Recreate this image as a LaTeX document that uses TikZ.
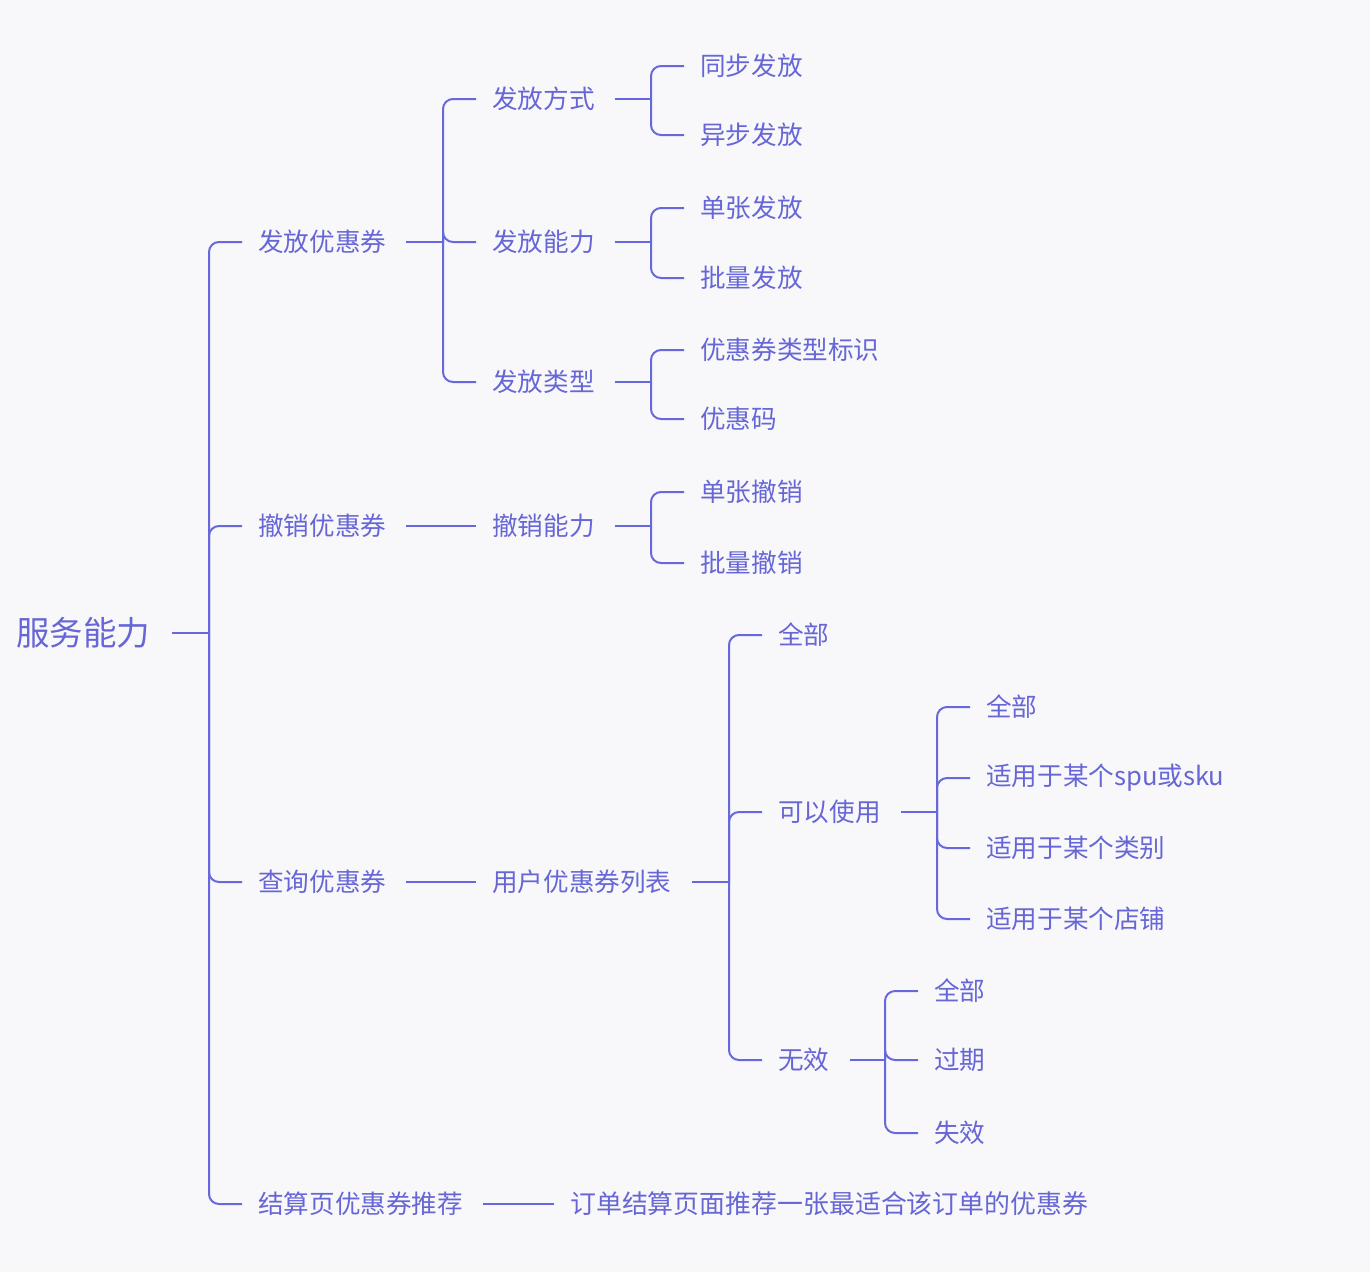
\documentclass[tikz,border=0pt]{standalone}
\usepackage{fontspec}
\setmainfont{Noto Sans CJK SC}
\definecolor{mmline}{RGB}{104,104,222}
\definecolor{mmtext}{RGB}{102,102,214}
\definecolor{mmbg}{RGB}{248,248,250}
\tikzset{
  topic/.style={anchor=west,inner sep=0pt,text=mmtext,font=\fontsize{25.6}{30}\selectfont},
  roottopic/.style={topic,font=\fontsize{33.5}{40}\selectfont},
  stub/.style={draw=mmline,line width=2pt,shorten <=20pt},
  branch/.style={draw=mmline,line width=2pt,rounded corners=10pt,shorten >=16pt}
}
\begin{document}
\begin{tikzpicture}[x=1pt,y=-1pt]
    \fill[mmbg] (0,0) rectangle (1370,1272);% background
    % root
    \node[roottopic] (svc) at (16,633) {服务能力};
    \coordinate (jsvc) at (209,633);
    \draw[stub,shorten <=22pt] (svc.east) -- (jsvc);
    % first level
    \node[topic] (give) at (258,242) {发放优惠券};
    \node[topic] (revoke) at (258,526) {撤销优惠券};
    \node[topic] (query) at (258,882) {查询优惠券};
    \node[topic] (recommend) at (258,1204) {结算页优惠券推荐};
    \foreach \c in {give,revoke,query,recommend}
      \draw[branch] (jsvc) |- (\c.west);
    % issuing
    \node[topic] (mode) at (492,99) {发放方式};
    \node[topic] (ability) at (492,242) {发放能力};
    \node[topic] (kind) at (492,382) {发放类型};
    \coordinate (jgive) at (443,242);
    \draw[stub] (give.east) -- (jgive);
    \foreach \c in {mode,ability,kind}
      \draw[branch] (jgive) |- (\c.west);
    \node[topic] (sync) at (700,66) {同步发放};
    \node[topic] (async) at (700,135) {异步发放};
    \coordinate (jmode) at (651,99);
    \draw[stub] (mode.east) -- (jmode);
    \foreach \c in {sync,async}
      \draw[branch] (jmode) |- (\c.west);
    \node[topic] (single) at (700,208) {单张发放};
    \node[topic] (batch) at (700,278) {批量发放};
    \coordinate (jability) at (651,242);
    \draw[stub] (ability.east) -- (jability);
    \foreach \c in {single,batch}
      \draw[branch] (jability) |- (\c.west);
    \node[topic] (typemark) at (700,350) {优惠券类型标识};
    \node[topic] (promo) at (700,419) {优惠码};
    \coordinate (jkind) at (651,382);
    \draw[stub] (kind.east) -- (jkind);
    \foreach \c in {typemark,promo}
      \draw[branch] (jkind) |- (\c.west);
    % revoking
    \node[topic] (rvk) at (492,526) {撤销能力};
    \draw[stub,shorten >=16pt] (revoke.east) -- (rvk.west);
    \node[topic] (rsingle) at (700,492) {单张撤销};
    \node[topic] (rbatch) at (700,563) {批量撤销};
    \coordinate (jrvk) at (651,526);
    \draw[stub] (rvk.east) -- (jrvk);
    \foreach \c in {rsingle,rbatch}
      \draw[branch] (jrvk) |- (\c.west);
    % querying
    \node[topic] (list) at (492,882) {用户优惠券列表};
    \draw[stub,shorten >=16pt] (query.east) -- (list.west);
    \node[topic] (all) at (778,635) {全部};
    \node[topic] (usable) at (778,812) {可以使用};
    \node[topic] (invalid) at (778,1060) {无效};
    \coordinate (jlist) at (729,882);
    \draw[stub] (list.east) -- (jlist);
    \foreach \c in {all,usable,invalid}
      \draw[branch] (jlist) |- (\c.west);
    \node[topic] (uall) at (986,707) {全部};
    \node[topic] (uspu) at (986,778) {适用于某个spu或sku};
    \node[topic] (ucat) at (986,848) {适用于某个类别};
    \node[topic] (ushop) at (986,919) {适用于某个店铺};
    \coordinate (jusable) at (937,812);
    \draw[stub] (usable.east) -- (jusable);
    \foreach \c in {uall,uspu,ucat,ushop}
      \draw[branch] (jusable) |- (\c.west);
    \node[topic] (iall) at (934,991) {全部};
    \node[topic] (iexp) at (934,1060) {过期};
    \node[topic] (ifail) at (934,1133) {失效};
    \coordinate (jinvalid) at (885,1060);
    \draw[stub] (invalid.east) -- (jinvalid);
    \foreach \c in {iall,iexp,ifail}
      \draw[branch] (jinvalid) |- (\c.west);
    % recommending
    \node[topic,font=\fontsize{25.9}{30}\selectfont] (tip) at (570,1204) {订单结算页面推荐一张最适合该订单的优惠券};
    \draw[stub,shorten >=16pt] (recommend.east) -- (tip.west);
\end{tikzpicture}
\end{document}
